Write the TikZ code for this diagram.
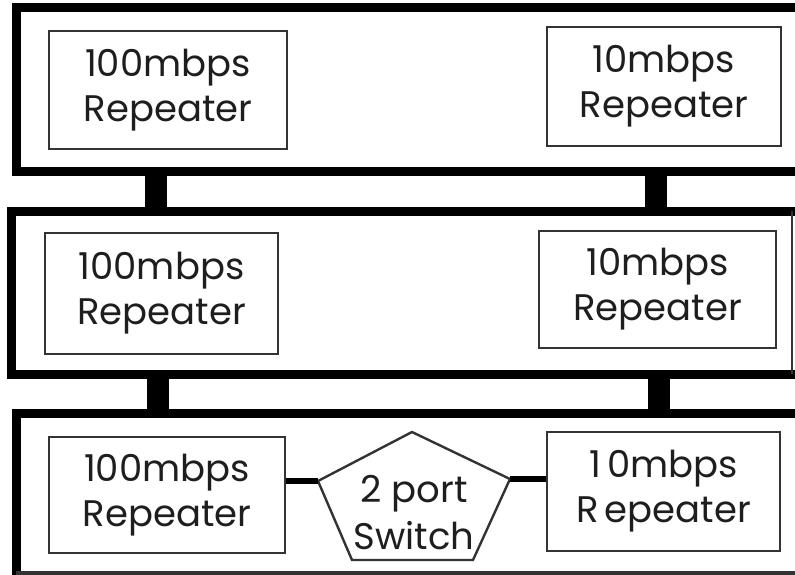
\documentclass[tikz,border=0pt]{standalone}
\usepackage{fontspec}
\setmainfont{Poppins}
\usetikzlibrary{calc}
\definecolor{boxline}{HTML}{333333}
\definecolor{txt}{HTML}{1E1E1E}
\tikzset{
  band/.style={line width=9pt, black, line join=miter},
  bar/.style={line width=22pt, black},
  rep/.style={draw=boxline, line width=2.6pt, rectangle, align=center, text=txt,
    font=\fontsize{37}{45}\selectfont, inner sep=0pt},
  link/.style={line width=6pt, black},
  sw/.style={draw=boxline, line width=2.4pt, line join=miter},
  swtext/.style={align=center, text=txt, font=\fontsize{37}{47}\selectfont, inner sep=0pt}
}
\begin{document}
\begin{tikzpicture}[x=1pt, y=-1pt]
\useasboundingbox (0,0) rectangle (795,575);
\clip (0,0) rectangle (795,575);
% bands (invisible frames used as anchors)
\node[minimum width=800pt, minimum height=163pt, inner sep=0pt, anchor=north west] (b1) at (16,8) {};
\node[minimum width=800pt, minimum height=163pt, inner sep=0pt, anchor=north west] (b2) at (11.5,211) {};
\node[minimum width=800pt, minimum height=160pt, inner sep=0pt, anchor=north west] (b3) at (16,413.5) {};
\draw[band] (800,8) -- (16,8) -- (16,171) -- (800,171);
\draw[band] (800,211) -- (11.5,211) -- (11.5,374) -- (800,374);
\draw[boxline, line width=2pt] (792,211) -- (792,374);
\draw[band] (800,413.5) -- (16,413.5) -- (16,576);
\draw[boxline, line width=4pt] (16,573) -- (800,573);
% bars between bands
\draw[bar] (b1.south -| 156,0) -- (b2.north -| 156,0);
\draw[bar] (b1.south -| 656,0) -- (b2.north -| 656,0);
\draw[bar] (b2.south -| 157.5,0) -- (b3.north -| 157.5,0);
\draw[bar] (b2.south -| 658.5,0) -- (b3.north -| 658.5,0);
% repeaters
\node[rep, minimum width=238pt, minimum height=118pt] (r1l) at (168,90) {100mbps\\Repeater};
\node[rep, minimum width=234pt, minimum height=119pt] (r1r) at (664,86.5) {10mbps\\Repeater};
\node[rep, minimum width=233pt, minimum height=121pt] (r2l) at (161.5,293.5) {100mbps\\Repeater};
\node[rep, minimum width=237pt, minimum height=117pt] (r2r) at (657.5,289.5) {10mbps\\Repeater};
\node[rep, minimum width=236pt, minimum height=116pt] (r3l) at (167,495) {100mbps\\Repeater};
\node[rep, minimum width=233pt, minimum height=119pt] (r3r) at (663.5,491.5) {1\kern6pt 0mbps\\R\kern6pt epeater};
% switch pentagon
\coordinate (swT) at (412,432);
\coordinate (swL) at (318,481);
\coordinate (swR) at (510,479);
\coordinate (swBL) at (352,560);
\coordinate (swBR) at (473,560);
\draw[sw] (swT) -- (swR) -- (swBR) -- (swBL) -- (swL) -- cycle;
\node[swtext] (sw) at (414,513) {2 port\\Switch};
% links
\draw[link] (r3l.east |- swL) -- (swL);
\draw[link] (swR) -- (r3r.west |- swR);
\end{tikzpicture}
\end{document}
